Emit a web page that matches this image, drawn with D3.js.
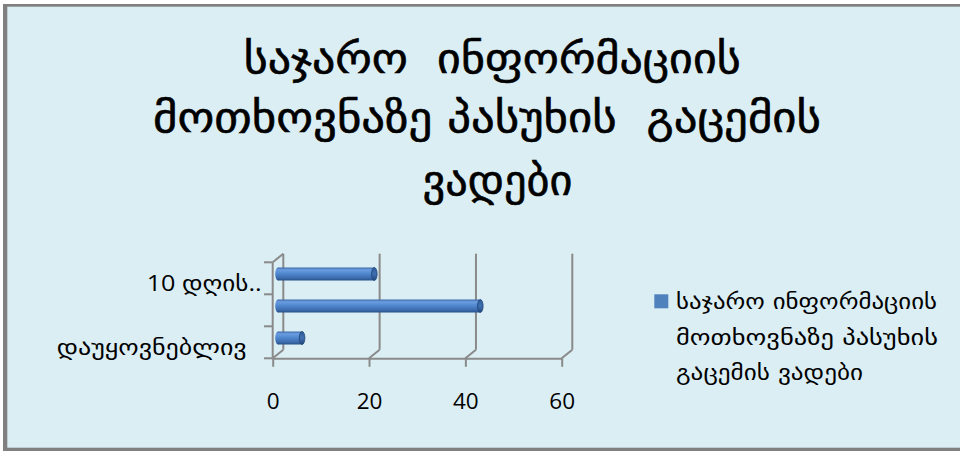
<!DOCTYPE html>
<html>
<head>
<meta charset="utf-8">
<script src="https://cdn.jsdelivr.net/npm/d3@7"></script>
<style>
  html, body { margin: 0; padding: 0; background: #ffffff; }
  svg { display: block; }
  text { white-space: pre; }
</style>
</head>
<body>
<svg id="chart" width="960" height="451"></svg>
<script>
// ---- data ----
const categories = ["დაუყოვნებლივ", "10 დღის ვადაში", "10 დღის ვადის გადაცილებით"];
const categoryTickLabels = ["დაუყოვნებლივ", "", "10 დღის.."];
const values = [5, 42, 20];
const xTickValues = [0, 20, 40, 60];
const titleLines = ["საჯარო  ინფორმაციის", "მოთხოვნაზე პასუხის  გაცემის", "ვადები"];
const legendLines = ["საჯარო ინფორმაციის", "მოთხოვნაზე პასუხის", "გაცემის ვადები"];

// ---- layout ----
const svg = d3.select("#chart");
const W = 960, H = 451;
const geo = "'DejaVu Sans', 'Noto Sans', sans-serif";
const num = "'Open Sans', 'DejaVu Sans', sans-serif";
const gridColor = "#8a8a8a";

// background + frame
svg.append("rect").attr("x", 3).attr("y", 4).attr("width", W - 3).attr("height", H - 4).attr("fill", "#808080");
svg.append("rect").attr("x", 7.3).attr("y", 6.7).attr("width", W - 7.3).attr("height", 447.7 - 6.7).attr("fill", "#DBEEF4");

// scales
const x = d3.scaleLinear().domain([0, 60]).range([272.7, 561.7]);
const y = d3.scaleBand().domain(categories).range([358.3, 262.3]).paddingInner(0).paddingOuter(0);
const bw = y.bandwidth();
const floorY = 358.3;
const topY = 262.3;
const dx = 10.6, dy = -8.6;

const walls = svg.append("g").attr("stroke", gridColor).attr("stroke-width", 2).attr("fill", "none");

// back-wall vertical gridlines
walls.selectAll("line.back").data(xTickValues).join("line")
  .attr("class", "back")
  .attr("x1", d => x(d) + dx).attr("x2", d => x(d) + dx)
  .attr("y1", floorY + dy).attr("y2", topY + dy);
// floor diagonals
walls.selectAll("line.diag").data(xTickValues).join("line")
  .attr("class", "diag")
  .attr("x1", d => x(d)).attr("y1", floorY)
  .attr("x2", d => x(d) + dx).attr("y2", floorY + dy);
// left wall front edge and top diagonal
walls.append("line").attr("x1", x(0)).attr("x2", x(0)).attr("y1", topY).attr("y2", floorY);
walls.append("line").attr("x1", x(0)).attr("y1", topY).attr("x2", x(0) + dx).attr("y2", topY + dy);
// category tick marks at band boundaries
const boundaries = categories.map(c => y(c)).concat([y(categories[0]) + bw]);
walls.selectAll("line.ctick").data(boundaries).join("line")
  .attr("class", "ctick")
  .attr("x1", x(0) - 8.7).attr("x2", x(0))
  .attr("y1", d => d).attr("y2", d => d);

// bottom axis (front floor edge)
const xAxis = d3.axisBottom(x).tickValues(xTickValues).tickSizeInner(8.5).tickSizeOuter(0).tickPadding(26);
const ax = svg.append("g").attr("transform", `translate(0,${floorY})`).call(xAxis);
ax.select(".domain").attr("stroke", gridColor).attr("stroke-width", 2);
ax.selectAll(".tick line").attr("stroke", gridColor).attr("stroke-width", 2);
ax.selectAll(".tick text").attr("fill", "#000").attr("font-family", num).attr("font-size", 22.5).attr("dy", 0).attr("y", 51);

// gradients for cylinders
const defs = svg.append("defs");
const g1 = defs.append("linearGradient").attr("id", "cyl").attr("x1", 0).attr("y1", 0).attr("x2", 0).attr("y2", 1);
[[0, "#3b6aa8"], [0.18, "#6b9de0"], [0.45, "#5289d0"], [0.8, "#3c6cae"], [1, "#27508a"]]
  .forEach(([o, c]) => g1.append("stop").attr("offset", o).attr("stop-color", c));
const g2 = defs.append("linearGradient").attr("id", "cap").attr("x1", 0).attr("y1", 0).attr("x2", 0).attr("y2", 1);
[[0, "#2f5c98"], [0.5, "#3f70b2"], [1, "#23497f"]]
  .forEach(([o, c]) => g2.append("stop").attr("offset", o).attr("stop-color", c));

// bars (cylinders at mid-depth)
const barH = 13;
const rx = 2.8;
const bars = svg.append("g");
const barData = categories.map((c, i) => ({ c, v: values[i] }));
const cy = d => y(d.c) + bw / 2 + dy / 2;
const bx0 = x(0) + dx / 2;
const bx1 = d => x(d.v) + dx / 2;

bars.selectAll("ellipse.left").data(barData).join("ellipse")
  .attr("class", "left")
  .attr("cx", bx0).attr("cy", cy).attr("rx", rx).attr("ry", barH / 2)
  .attr("fill", "url(#cyl)");
bars.selectAll("rect.body").data(barData).join("rect")
  .attr("class", "body")
  .attr("x", bx0).attr("y", d => cy(d) - barH / 2)
  .attr("width", d => bx1(d) - bx0).attr("height", barH)
  .attr("fill", "url(#cyl)");
bars.selectAll("ellipse.cap").data(barData).join("ellipse")
  .attr("class", "cap")
  .attr("cx", bx1).attr("cy", cy).attr("rx", rx).attr("ry", barH / 2)
  .attr("fill", "url(#cap)").attr("stroke", "#1f4372").attr("stroke-width", 0.8);

// category labels
const labelRight = [246.7, 261.7, 261.7];
const labelWidth = [190, 0, 115];
svg.append("g").selectAll("text").data(categories).join("text")
  .filter((d, i) => categoryTickLabels[i] !== "")
  .attr("x", d => labelRight[categories.indexOf(d)] - labelWidth[categories.indexOf(d)])
  .attr("y", d => y(d) + bw / 2 + 12.5)
  .attr("text-anchor", "start")
  .attr("font-family", num).attr("font-size", 21.5).attr("fill", "#000")
  .attr("textLength", d => labelWidth[categories.indexOf(d)])
  .attr("lengthAdjust", "spacingAndGlyphs")
  .text(d => categoryTickLabels[categories.indexOf(d)]);

// title
const titleX = [243.7, 153, 422.5];
const titleW = [497, 668, 150];
const titleY = [73.3, 131.7, 195];
svg.append("g").selectAll("text").data(titleLines).join("text")
  .attr("x", (d, i) => titleX[i]).attr("y", (d, i) => titleY[i])
  .attr("font-family", geo).attr("font-weight", "normal").attr("font-size", 41).attr("fill", "#000")
  .attr("stroke", "#000").attr("stroke-width", 0.6)
  .attr("textLength", (d, i) => titleW[i]).attr("lengthAdjust", "spacingAndGlyphs")
  .text(d => d);

// legend
svg.append("rect").attr("x", 654.3).attr("y", 294.3).attr("width", 14).attr("height", 14).attr("fill", "#4F81BD");
const legX = 676;
const legW = [261, 262, 187];
const legY = [308.8, 344.5, 379.5];
svg.append("g").selectAll("text").data(legendLines).join("text")
  .attr("x", legX).attr("y", (d, i) => legY[i])
  .attr("font-family", geo).attr("font-size", 21).attr("fill", "#000")
  .attr("textLength", (d, i) => legW[i]).attr("lengthAdjust", "spacingAndGlyphs")
  .text(d => d);
</script>
</body>
</html>
